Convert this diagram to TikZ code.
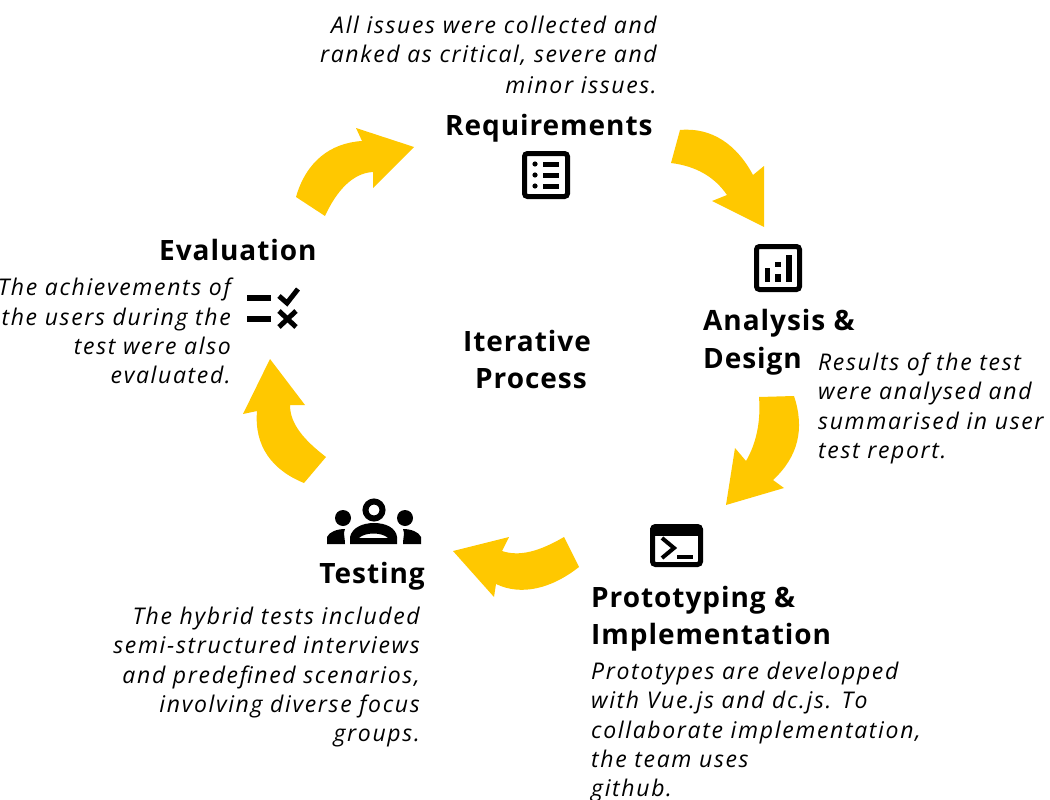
\documentclass[tikz,border=0pt]{standalone}
\usepackage{fontspec}
\setmainfont{Open Sans}
\newfontfamily\headfont[LetterSpace=3.4]{Open Sans}
\newfontfamily\bodyfont[LetterSpace=7.2]{Open Sans}
\definecolor{arrowyellow}{HTML}{FFC800}
\tikzset{
  x=1pt,y=-1pt,
  head/.style={inner sep=0pt,font=\fontsize{28}{37.5}\selectfont\headfont\bfseries},
  body/.style={inner sep=0pt,font=\fontsize{23}{29.3}\selectfont\bodyfont\itshape},
  flow/.style={fill=arrowyellow,draw=none},
  line/.style={draw=black,line width=5pt,line cap=butt},
}
\begin{document}
\begin{tikzpicture}
\useasboundingbox (0,0) rectangle (1050,800);
% arrows
\path[flow] (680,130) .. controls (712,127) and (737,145) .. (753,175) -- (764,166) -- (764,227) -- (712,201) -- (727,195) .. controls (714,176) and (695,166) .. (671,163) -- cycle;
\path[flow] (794,396) .. controls (805,429) and (798,457) .. (773,480) -- (784,488) -- (726,505) -- (735,448) -- (746,461) .. controls (756,444) and (761,422) .. (759,397) -- cycle;
\path[flow] (579,567) .. controls (551,589) and (521,596) .. (496,584) -- (494,597) -- (453,551) -- (509,537) -- (502,551) .. controls (520,557) and (540,551) .. (564,537) -- cycle;
\path[flow] (304,483) .. controls (272,470) and (254,446) .. (257,411) -- (243,414) -- (270,359) -- (305,405) -- (290,405) .. controls (290,424) and (304,440) .. (326,457) -- cycle;
\path[flow] (296,197) .. controls (306,162) and (330,143) .. (362,141) -- (356,128) -- (414,147) -- (373,188) -- (373,172) .. controls (352,173) and (336,192) .. (325,216) -- cycle;
% list icon
\draw[line,rounded corners=3pt] (524.5,153.5) rectangle (567.5,196.5);
\foreach \yy in {164,175,186}{
  \fill (535,\yy) circle[radius=2.6];
  \fill (543,\yy-2.5) rectangle (559,\yy+2.5);
}
% chart icon
\draw[line,rounded corners=3pt] (756.5,246.5) rectangle (799.5,289.5);
\fill (765,268) rectangle (770,282);
\fill (775,262) rectangle (781,267);
\fill (775,274) rectangle (781,282);
\fill (786,255) rectangle (792,282);
% terminal icon
\draw[line,rounded corners=3pt] (652.5,526.5) rectangle (700.5,564.5);
\fill (650,528) rectangle (703,536);
\draw[draw=black,line width=4pt] (662,538) -- (674,548) -- (662,558);
\fill (677,555) rectangle (693,559);
% people icon
\draw[draw=black,line width=6pt] (374,510) circle[radius=8.5];
\fill (343,518) circle[radius=8];
\fill (405,518) circle[radius=8];
\fill[even odd rule] (350,544) -- (350,537) .. controls (352,528) and (362,523) .. (374,523) .. controls (386,523) and (396,528) .. (397,537) -- (397,544) -- cycle
  (359,538) .. controls (365,532) and (382,532) .. (388,538) -- cycle;
\fill (327,544) -- (327,537) .. controls (329,532) and (337,529) .. (345,529) .. controls (343,533) and (345,538) .. (345,544) -- cycle;
\fill (421,544) -- (421,537) .. controls (419,532) and (411,529) .. (403,529) .. controls (405,533) and (403,538) .. (403,544) -- cycle;
% evaluation icon
\fill (247,295) rectangle (271,301);
\fill (247,316) rectangle (271,322);
\draw[draw=black,line width=5pt] (279,296) -- (287,303) -- (298,289);
\draw[draw=black,line width=5pt] (279,311) -- (296,327) (296,311) -- (279,327);
% headings
\node[head,anchor=base west] (req) at (445,135) {Requirements};
\node[head,anchor=base west] (eva) at (159,260) {Evaluation};
\node[head,anchor=base west] (ana1) at (703,330) {Analysis \&};
\node[head,anchor=base west] (ana2) at (703,368) {Design};
\node[head,anchor=base west] (pro1) at (591,607) {Prototyping \&};
\node[head,anchor=base west] (pro2) at (591,644) {Implementation};
\node[head,anchor=base east] (tes) at (425,583) {Testing};
\node[head,anchor=base] (ite1) at (527,351) {Iterative};
\node[head,anchor=base] (ite2) at (531,388) {Process};
% body
\node[body,anchor=base east] (a1) at (657,34) {All issues were collected and};
\node[body,anchor=base east] (a2) at (657,63) {ranked as critical, severe and};
\node[body,anchor=base east] (a3) at (657,93) {minor issues.};
\node[body,anchor=base west] (b1) at (818,370) {Results of the test};
\node[body,anchor=base west] (b2) at (818,399.5) {were analysed and};
\node[body,anchor=base west] (b3) at (818,429) {summarised in user};
\node[body,anchor=base west] (b4) at (818,458) {test report.};
\node[body,anchor=base west] (c1) at (591,679) {Prototypes are developped};
\node[body,anchor=base west] (c2) at (591,708) {with Vue.js and dc.js. To};
\node[body,anchor=base west] (c3) at (591,738) {collaborate implementation,};
\node[body,anchor=base west] (c4) at (591,767) {the team uses};
\node[body,anchor=base west] (c5) at (591,796) {github.};
\node[body,anchor=base east] (d1) at (420,624) {The hybrid tests included};
\node[body,anchor=base east] (d2) at (420,653) {semi-structured interviews};
\node[body,anchor=base east] (d3) at (420,683) {and predefined scenarios,};
\node[body,anchor=base east] (d4) at (420,712) {involving diverse focus};
\node[body,anchor=base east] (d5) at (420,741) {groups.};
\node[body,anchor=base east] (e1) at (231,295) {The achievements of};
\node[body,anchor=base east] (e2) at (231,325) {the users during the};
\node[body,anchor=base east] (e3) at (231,354) {test were also};
\node[body,anchor=base east] (e4) at (231,383) {evaluated.};
\end{tikzpicture}
\end{document}
